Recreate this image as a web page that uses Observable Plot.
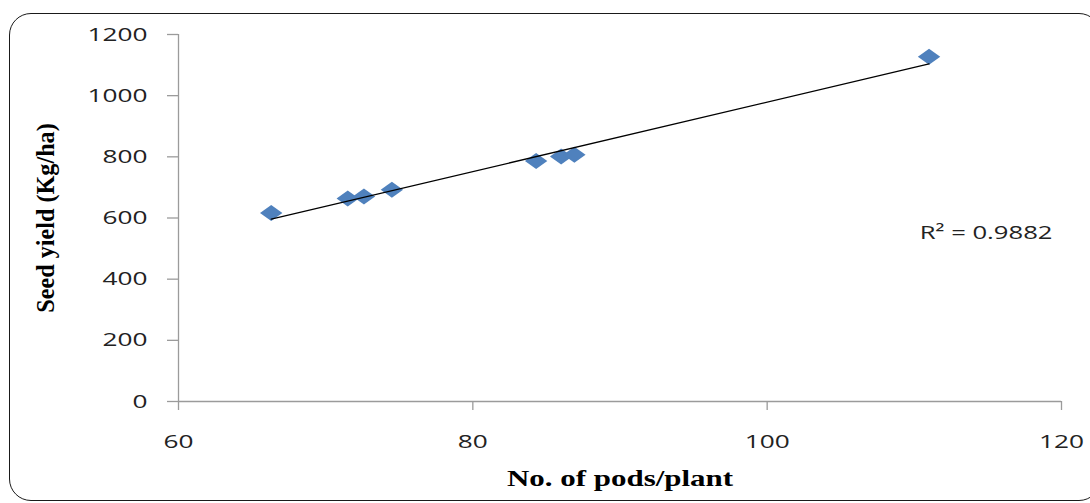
<!DOCTYPE html>
<html>
<head>
<meta charset="utf-8">
<script src="https://cdn.jsdelivr.net/npm/d3@7"></script>
<script src="https://cdn.jsdelivr.net/npm/@observablehq/plot@0.6"></script>
<style>
  html, body { margin: 0; padding: 0; background: #fff; overflow: hidden; }
  #wrap { position: relative; width: 1090px; height: 503px; }
  #frame { position: absolute; left: 9px; top: 13px; width: 1090px; height: 486px;
           border: 1.5px solid #1a1a1a; border-radius: 22px; pointer-events: none; }
</style>
</head>
<body>
<div id="wrap"><div id="frame"></div></div>
<script>
// Data
const pods = [66.3, 71.5, 72.6, 74.5, 84.3, 86.0, 86.9, 111.0];
const seedYield = [616, 664, 670, 692, 786, 801, 807, 1127];
const xTicks = [60, 80, 100, 120];
const yTicks = [0, 200, 400, 600, 800, 1000, 1200];
const xTitle = "No. of pods/plant";
const yTitle = "Seed yield (Kg/ha)";
const r2 = 0.9882;

const data = pods.map((x, i) => ({x, y: seedYield[i]}));
const axisColor = "#9b9b9b";
const sans = "'Open Sans', sans-serif";
const serif = "'Liberation Serif', 'Times New Roman', serif";

// Excel-like flattened diamond marker
const diamond = {
  draw(ctx, size) {
    const r = Math.sqrt(size / Math.PI);
    const w = r * 1.4, h = r;
    ctx.moveTo(0, -h); ctx.lineTo(w, 0); ctx.lineTo(0, h); ctx.lineTo(-w, 0); ctx.closePath();
  }
};

const chart = Plot.plot({
  width: 1090,
  height: 503,
  marginLeft: 178,
  marginRight: 29,
  marginTop: 34,
  marginBottom: 102,
  style: {background: "transparent", fontFamily: sans, fontSize: "19px", color: "#222"},
  x: {domain: [60, 120]},
  y: {domain: [0, 1200]},
  marks: [
    Plot.ruleY([0], {stroke: axisColor, strokeWidth: 1.3}),
    Plot.ruleX([60], {stroke: axisColor, strokeWidth: 1.3}),
    Plot.axisX({ticks: xTicks, tickFormat: "d", tickSize: 9, tickPadding: 24, stroke: axisColor,
                strokeWidth: 1.3, fill: "#222", fontSize: 19, fontFamily: sans, label: null}),
    Plot.axisY({ticks: yTicks, tickFormat: "d", tickSize: 11, tickPadding: 20, stroke: axisColor,
                strokeWidth: 1.3, fill: "#222", fontSize: 19, fontFamily: sans, label: null}),
    Plot.dot(data, {x: "x", y: "y", symbol: diamond, r: 8, fill: "#4F81BD", stroke: "none"}),
    Plot.linearRegressionY(data, {x: "x", y: "y", stroke: "#000", strokeWidth: 1.3, ci: 0}),
    Plot.text([`R² = ${r2}`], {frameAnchor: "right", textAnchor: "end", dx: -9, dy: 15,
               fontFamily: sans, fontSize: 19, fill: "#222"}),
    Plot.text([xTitle], {frameAnchor: "bottom", textAnchor: "middle", dy: 84, fontFamily: serif,
               fontWeight: "bold", fontSize: 24, fill: "#000"}),
    Plot.text([yTitle], {frameAnchor: "left", textAnchor: "middle", rotate: -90, dx: -133,
               fontFamily: serif, fontWeight: "bold", fontSize: 22, fill: "#000"})
  ]
});

// Horizontal glyph stretch to match the reference's wide lettering
function stretch(nodes, sx, sy = 1) {
  nodes.forEach(n => {
    const t = n.getAttribute("transform") || "";
    n.setAttribute("transform", `${t} scale(${sx},${sy})`);
  });
}
stretch(chart.querySelectorAll('g[aria-label="x-axis tick label"] text, g[aria-label="y-axis tick label"] text'), 1.38);
const textGroups = chart.querySelectorAll('g[aria-label="text"]');
stretch(textGroups[0].querySelectorAll("text"), 1.35);
stretch(textGroups[1].querySelectorAll("text"), 1.29);
stretch(textGroups[2].querySelectorAll("text"), 1.1, 1.15);

document.getElementById("wrap").prepend(chart);
</script>
</body>
</html>
